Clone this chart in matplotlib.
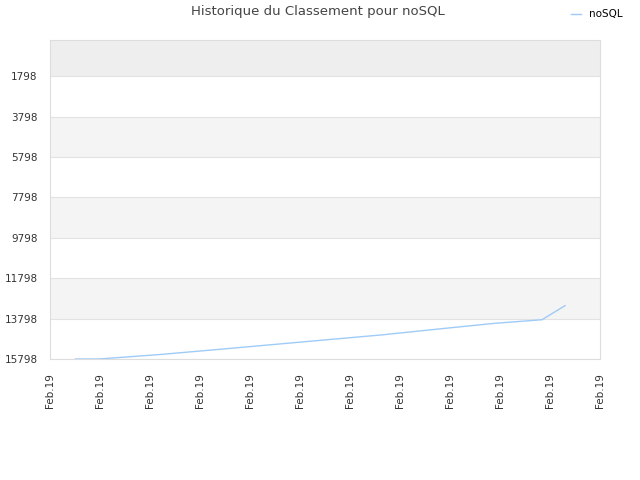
"""
plot.py

Ranking history for noSQL (lower rank number is better, so the y axis is flipped).
"""

import matplotlib
matplotlib.use("Agg")
import matplotlib.pyplot as plt

## DATA ##
# --------------------------------------------------------------------------- #

# position of each sample along the x axis, in tick units (tick i -> "Feb.19")
POSITIONS = [0.51, 0.98, 2.23, 3.34, 4.45, 5.56, 6.67, 7.78, 8.89, 9.84, 10.30]
RANKS = [15798, 15798, 15570, 15330, 15085, 14840, 14596, 14310, 14032, 13854, 13156]

TICK_LABELS = ["Feb.19"] * 12
Y_TICKS = [1798, 3798, 5798, 7798, 9798, 11798, 13798, 15798]

SERIES_NAME = "noSQL"
TITLE = "Historique du Classement pour noSQL"

# --------------------------------------------------------------------------- #

LINE_COLOUR = "#9ecbf7"
TEXT_COLOUR = "#333333"


def shade_bands(ax):
    # top strip is a bit darker, then every other band is light grey
    ax.axhspan(0, Y_TICKS[0], color="#eeeeee", zorder=0, lw=0)
    for i in range(1, len(Y_TICKS) - 1, 2):
        ax.axhspan(Y_TICKS[i], Y_TICKS[i + 1], color="#f4f4f4", zorder=0, lw=0)
    for y in Y_TICKS:
        ax.axhline(y, color="#e2e2e2", lw=0.8, zorder=1)


def main():
    fig = plt.figure(figsize=(6.4, 4.8), dpi=100)
    ax = fig.add_axes([50 / 640, 121 / 480, 550 / 640, 319 / 480])

    shade_bands(ax)
    ax.plot(POSITIONS, RANKS, color=LINE_COLOUR, lw=1.0, label=SERIES_NAME, zorder=3)

    ax.set_ylim(Y_TICKS[-1], 0)
    ax.set_xlim(0, len(TICK_LABELS) - 1)
    ax.set_yticks(Y_TICKS)
    ax.set_yticklabels([str(t) for t in Y_TICKS])
    ax.set_xticks(range(len(TICK_LABELS)))
    ax.set_xticklabels(TICK_LABELS, rotation=90)

    ax.tick_params(axis="both", length=0, labelsize=7.5, colors=TEXT_COLOUR)
    ax.tick_params(axis="y", pad=9)
    ax.tick_params(axis="x", pad=10)
    for spine in ax.spines.values():
        spine.set_color("#dddddd")
        spine.set_linewidth(0.8)

    fig.text(0.497, 0.975, TITLE, ha="center", va="center", fontsize=9.5, color="#444444")
    fig.legend(loc="upper right", bbox_to_anchor=(0.988, 1.0), frameon=False,
               fontsize=7.5, handlelength=1.0, handletextpad=0.8)

    fig.savefig("out.png", dpi=100, facecolor="white")


if __name__ == "__main__":
    main()
